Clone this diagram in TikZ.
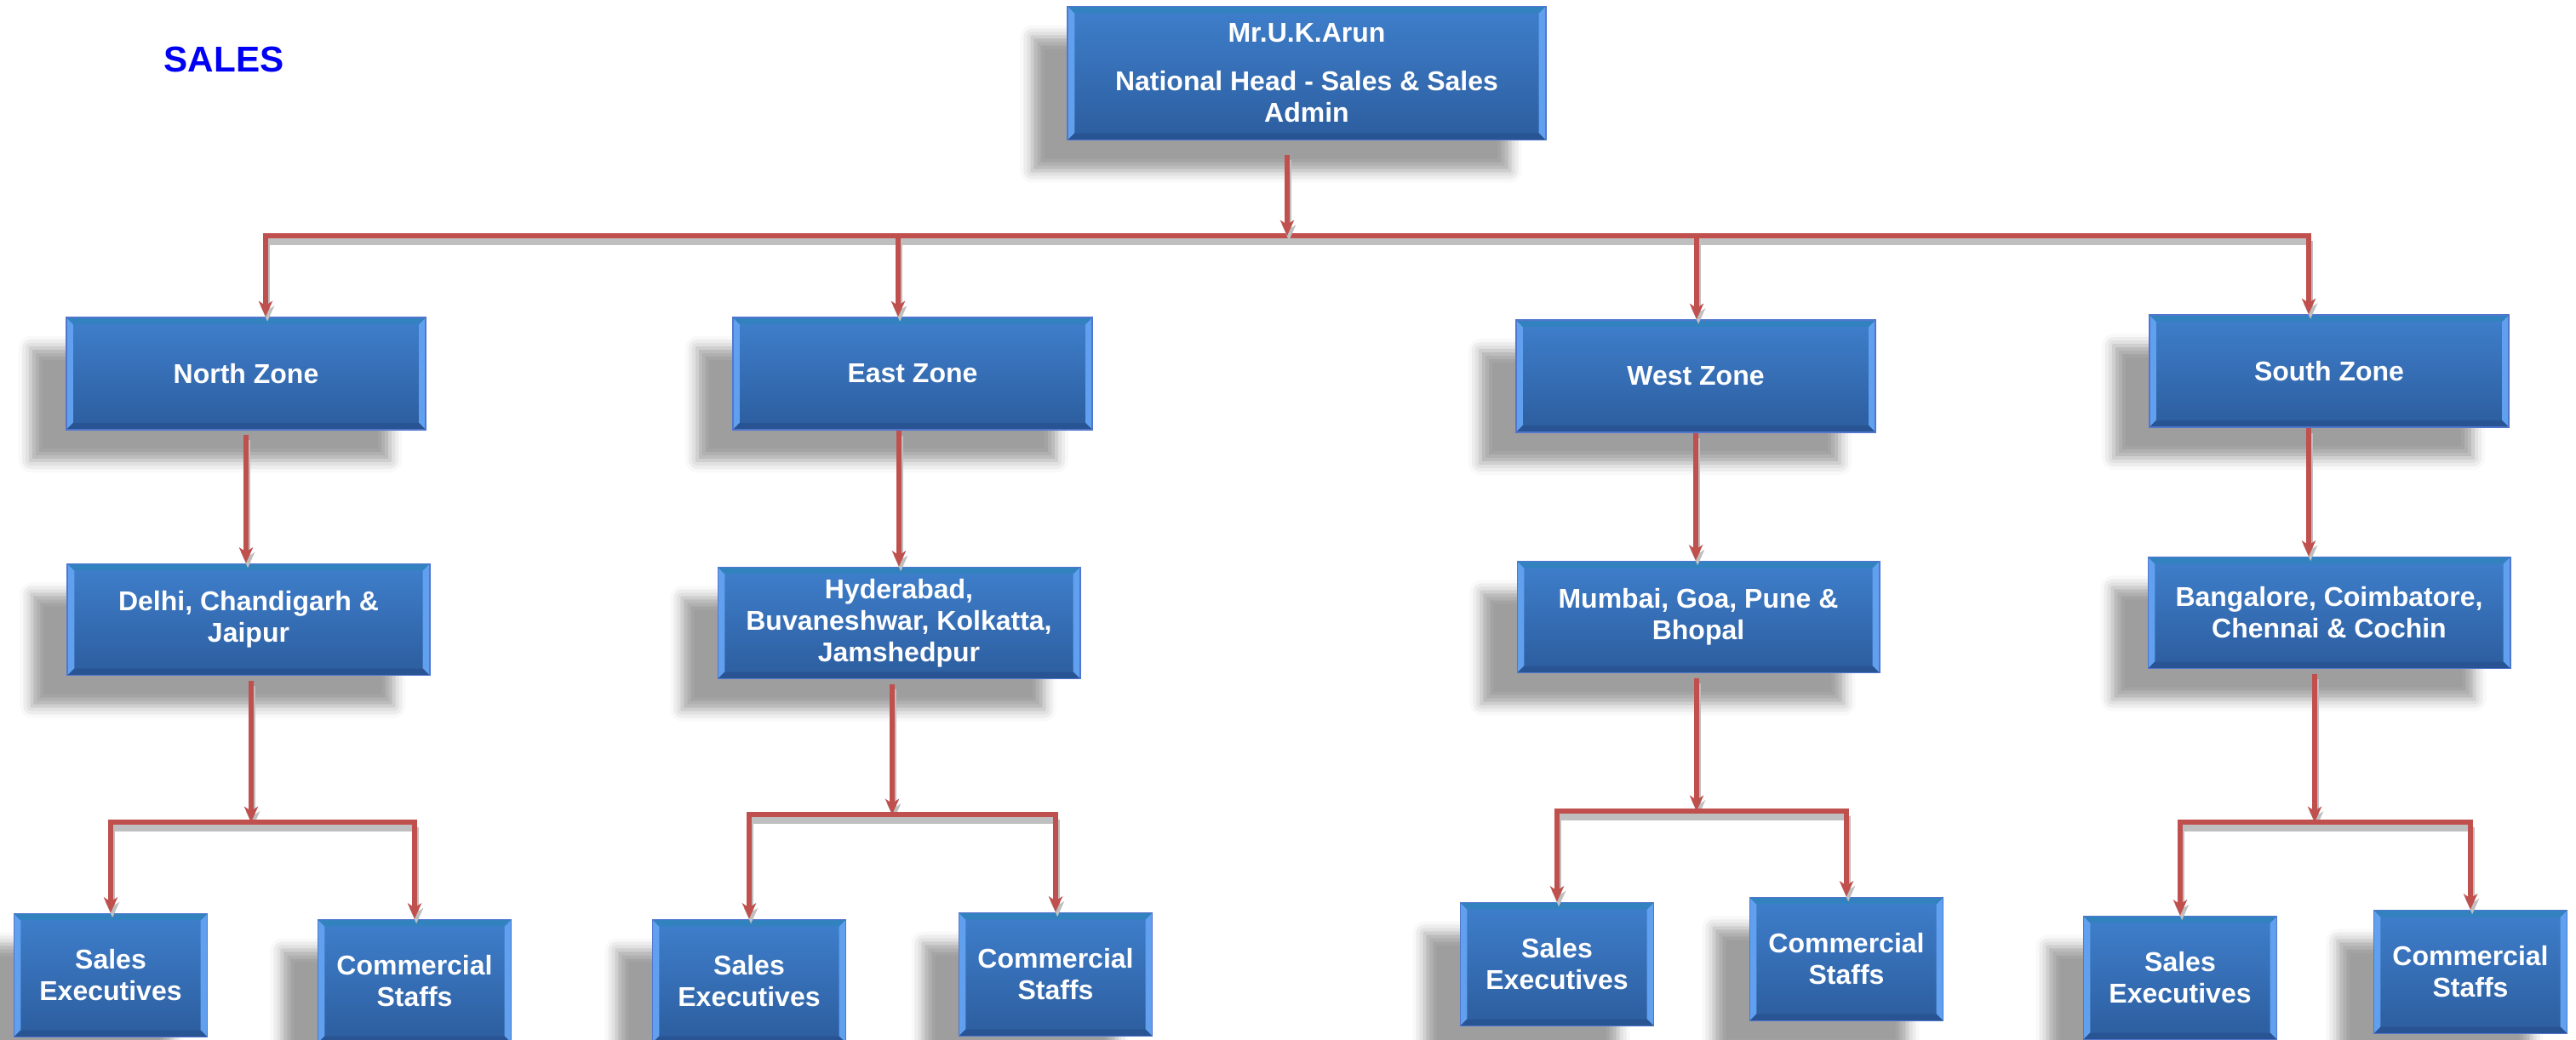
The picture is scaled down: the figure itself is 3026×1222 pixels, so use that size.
\documentclass[tikz,border=0pt]{standalone}
\usepackage{fontspec}
\setmainfont{Liberation Sans}
\usetikzlibrary{arrows.meta,shadows.blur}
\definecolor{boxtop}{RGB}{63,127,204}
\definecolor{boxbot}{RGB}{44,93,158}
\definecolor{boxedge}{RGB}{82,118,205}
\definecolor{bevelside}{RGB}{96,160,238}
\definecolor{beveltop}{RGB}{50,130,192}
\definecolor{bevelbot}{RGB}{40,84,148}
\definecolor{linkred}{RGB}{192,80,77}
\definecolor{titleblue}{RGB}{0,0,245}
\tikzset{
  unit/.style={rectangle, draw=boxedge, line width=0.5pt, top color=boxtop, bottom color=boxbot,
    inner sep=0pt, align=center, text=white, font=\bfseries\fontsize{9.1}{10.5}\selectfont,
    blur shadow={shadow xshift=-0.42cm, shadow yshift=-0.36cm, shadow blur radius=0.14cm, shadow opacity=38},
    path picture={
      \fill[bevelside] (path picture bounding box.north west) -- ++(8,8) -- ([shift={(8,-8)}]path picture bounding box.south west) -- (path picture bounding box.south west) -- cycle;
      \fill[bevelside] (path picture bounding box.north east) -- ++(-8,8) -- ([shift={(-8,-8)}]path picture bounding box.south east) -- (path picture bounding box.south east) -- cycle;
      \fill[beveltop] (path picture bounding box.north west) -- ++(8,8) -- ([shift={(-8,8)}]path picture bounding box.north east) -- (path picture bounding box.north east) -- cycle;
      \fill[bevelbot] (path picture bounding box.south west) -- ++(8,-8) -- ([shift={(-8,-8)}]path picture bounding box.south east) -- (path picture bounding box.south east) -- cycle;
    }},
  headbox/.style={unit, minimum width=5.61cm, minimum height=1.57cm},
  zonebox/.style={unit, minimum width=4.22cm, minimum height=1.32cm},
  citybox/.style={unit, minimum width=4.25cm, minimum height=1.31cm},
  leafbox/.style={unit, minimum width=2.27cm, minimum height=1.45cm},
  link/.style={draw=linkred, line width=1.45pt, -{Stealth[length=5.2pt, width=4.6pt, inset=1.5pt]},
    preaction={draw=black!25, line width=1.8pt, transform canvas={shift={(0.6pt,-1.6pt)}}}},
  bus/.style={draw=linkred, line width=1.6pt, line cap=rect,
    preaction={draw=black!25, line width=2.4pt, transform canvas={yshift=-2pt}}}
}
\begin{document}
\begin{tikzpicture}[x=0.01cm, y=-0.01cm]
\useasboundingbox (0,0) rectangle (3026,1222);
\node[font=\bfseries\fontsize{12}{14}\selectfont, text=titleblue] (title) at (263,70) {SALES};
\node[headbox] (head) at (1535,86) {Mr.U.K.Arun\\[0.2cm]National Head - Sales \& Sales\\Admin};

\node[zonebox] (north-zone) at (289,439) {North Zone};
\node[zonebox] (east-zone) at (1072,439) {East Zone};
\node[zonebox] (west-zone) at (1992,442) {West Zone};
\node[zonebox] (south-zone) at (2736,436) {South Zone};

\node[citybox] (north-city) at (292,728) {Delhi, Chandigarh \&\\Jaipur};
\node[citybox] (east-city) at (1056,732) {Hyderabad,\\Buvaneshwar, Kolkatta,\\Jamshedpur};
\node[citybox] (west-city) at (1995,725) {Mumbai, Goa, Pune \&\\Bhopal};
\node[citybox] (south-city) at (2736,720) {Bangalore, Coimbatore,\\Chennai \& Cochin};

\node[leafbox] (north-sales) at (130,1146) {Sales\\Executives};
\node[leafbox] (north-staff) at (487,1153) {Commercial\\Staffs};
\node[leafbox] (east-sales) at (880,1153) {Sales\\Executives};
\node[leafbox] (east-staff) at (1240,1145) {Commercial\\Staffs};
\node[leafbox] (west-sales) at (1829,1133) {Sales\\Executives};
\node[leafbox] (west-staff) at (2169,1127) {Commercial\\Staffs};
\node[leafbox] (south-sales) at (2561,1149) {Sales\\Executives};
\node[leafbox] (south-staff) at (2902,1142) {Commercial\\Staffs};

\coordinate (hub) at (1512,277);
\foreach \z/\x in {north/312,east/1055,west/1993,south/2712}
  \coordinate (\z-drop) at (\x,277);
\draw[bus] (north-drop) -- (south-drop);
\draw[link, shorten <=0.17cm] (hub |- head.south) -- (hub);
\foreach \z in {north,east,west,south}
  \draw[link] (\z-drop) -- (\z-drop |- \z-zone.north);

\draw[link, shorten <=0.05cm] (north-zone.south) -- (north-zone.south |- north-city.north);
\draw[link] (east-city.north |- east-zone.south) -- (east-city.north);
\draw[link] (west-zone.south) -- (west-zone.south |- west-city.north);
\draw[link] ([xshift=-0.24cm]south-zone.south) -- ([xshift=-0.24cm]south-city.north);

\foreach \z/\x/\y in {north/295/966,east/1048/957,west/1993/953,south/2719/966}
  \coordinate (\z-hub) at (\x,\y);
\foreach \z in {north,east,west,south}{
  \draw[link, shorten <=0.06cm] (\z-city.south -| \z-hub) -- (\z-hub);
  \draw[bus] (\z-sales.north |- \z-hub) -- (\z-staff.north |- \z-hub);
  \draw[link] (\z-sales.north |- \z-hub) -- (\z-sales.north);
  \draw[link] (\z-staff.north |- \z-hub) -- (\z-staff.north);
}
\end{tikzpicture}
\end{document}
